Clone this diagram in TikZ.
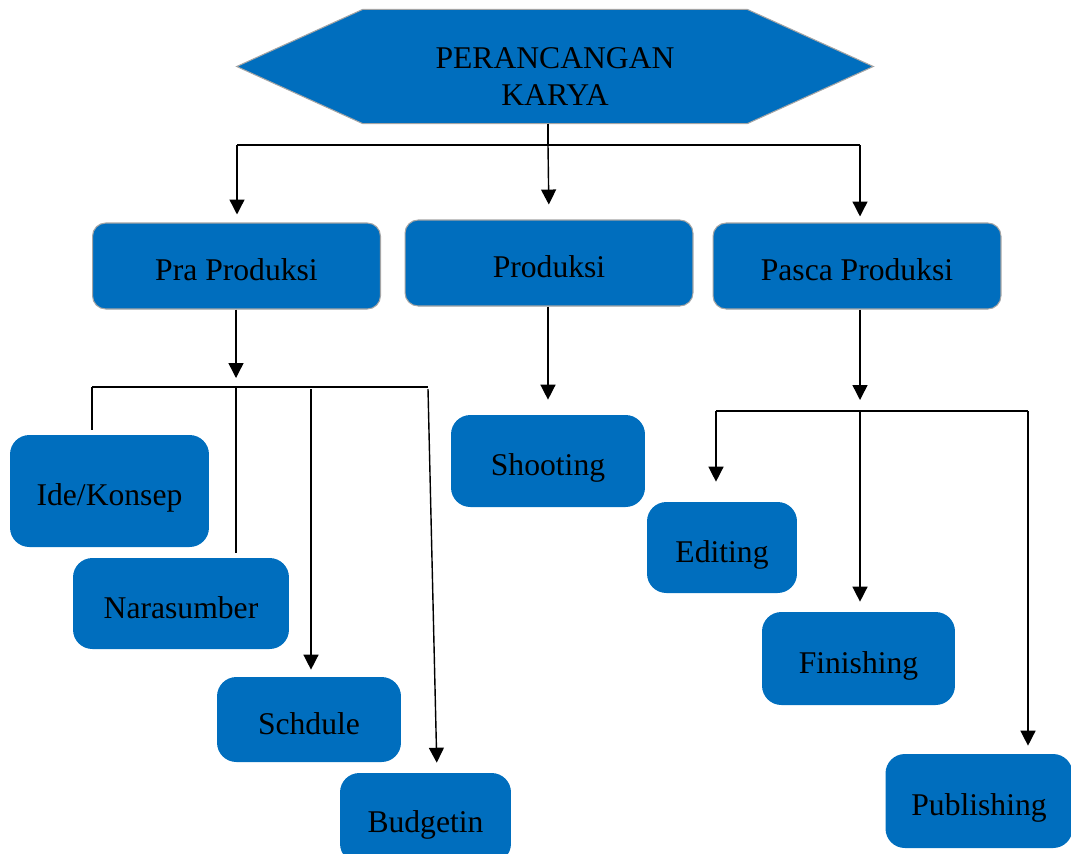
\documentclass[tikz,border=0pt]{standalone}
\usepackage{fontspec}
\setmainfont{Liberation Serif}
\usetikzlibrary{positioning, arrows.meta, backgrounds}
\definecolor{boxblue}{RGB}{0,110,190}
\definecolor{edgegray}{RGB}{165,165,165}

\begin{document}
\begin{tikzpicture}[
    x=0.02cm, y=-0.02cm,
    stagebox/.style={
        draw=edgegray,
        line width=0.6pt,
        fill=boxblue,
        rounded corners=7.5pt,
        font=\fontsize{18}{21}\selectfont,
        text height=21pt,
        text depth=4pt,
        minimum width=5.76cm,
        minimum height=1.72cm
    },
    taskbox/.style={
        fill=boxblue,
        rounded corners=11pt,
        font=\fontsize{18}{21}\selectfont,
        text height=21pt,
        text depth=4pt
    },
    link/.style={line width=0.8pt},
    arr/.style={line width=0.8pt, -{Triangle[width=8.5pt,length=8.5pt]}}
]
\useasboundingbox (0,0) rectangle (1071,853);

% === Top: Perancangan Karya ===
\node[minimum width=7.68cm, minimum height=2.27cm, inner sep=0pt,
      label={[yshift=-0.2cm, align=center, font=\fontsize{18}{21}\selectfont]center:PERANCANGAN\\KARYA}]
      (top) at (555,66.5) {};
\begin{scope}[on background layer]
\draw[draw=edgegray, fill=boxblue, line width=0.6pt]
    (top.north west) -- (top.north east) -- ([xshift=2.52cm]top.east)
    -- (top.south east) -- (top.south west) -- ([xshift=-2.52cm]top.west) -- cycle;
\end{scope}

% === Stages ===
\node[stagebox] (pra) at (236.5,266) {Pra Produksi};
\node[stagebox] (prod) at (549,263) {Produksi};
\node[stagebox] (pasca) at (857,266) {Pasca Produksi};

% === Pra Produksi tasks ===
\node[taskbox, minimum width=3.98cm, minimum height=2.24cm] (ide) at (109.5,491) {Ide/Konsep};
\node[taskbox, minimum width=4.32cm, minimum height=1.82cm] (nara) at (181,603.5) {Narasumber};
\node[taskbox, minimum width=3.68cm, minimum height=1.70cm] (sched) at (309,719.5) {Schdule};
\node[taskbox, minimum width=3.42cm, minimum height=1.80cm] (budget) at (425.5,818) {Budgetin};

% === Produksi task ===
\node[taskbox, minimum width=3.88cm, minimum height=1.84cm] (shoot) at (548,461) {Shooting};

% === Pasca Produksi tasks ===
\node[taskbox, minimum width=3.00cm, minimum height=1.82cm] (edit) at (722,547.5) {Editing};
\node[taskbox, minimum width=3.86cm, minimum height=1.86cm] (finish) at (858.5,658.5) {Finishing};
\node[taskbox, minimum width=3.74cm, minimum height=1.88cm] (publish) at (979,801) {Publishing};

% === Bus points ===
\coordinate (topmid) at (548,145);
\coordinate (topL) at (237,145);
\coordinate (topR) at (860,145);
\coordinate (praL) at (92,387);
\coordinate (praM) at (236,387);
\coordinate (praS) at (311,387);
\coordinate (praR) at (428,387);
\coordinate (pascaL) at (716,411);
\coordinate (pascaM) at (860,411);
\coordinate (pascaR) at (1028,411);

% === Arrows ===
\draw[link] (top.south -| topmid) -- (topmid);
\draw[link] (topL) -- (topR);
\draw[arr, shorten >=0.16cm] (topL) -- (topL |- pra.north);
\draw[arr, shorten >=0.30cm] (topmid) -- (prod.north);
\draw[arr, shorten >=0.12cm] (topR) -- (topR |- pasca.north);

\draw[arr] (pra.south -| praM) -- ([yshift=0.18cm]praM);
\draw[link] (praL) -- (praR);
\draw[link] (praL) -- ([yshift=0.1cm]praL |- ide.north);
\draw[link] (praM) -- ([yshift=0.1cm]praM |- nara.north);
\draw[arr, shorten >=0.14cm] ([yshift=-0.04cm]praS) -- (praS |- sched.north);
\draw[arr, shorten >=0.20cm] ([yshift=-0.04cm]praR) -- ([xshift=0.18cm]praR |- budget.north);

\draw[arr, shorten >=0.30cm] (prod.south -| topmid) -- (shoot.north -| topmid);

\draw[arr] (pasca.south -| pascaM) -- ([yshift=0.22cm]pascaM);
\draw[link] (pascaL) -- (pascaR);
\draw[arr, shorten >=0.40cm] (pascaL) -- (pascaL |- edit.north);
\draw[arr, shorten >=0.20cm] (pascaM) -- (pascaM |- finish.north);
\draw[arr, shorten >=0.16cm] (pascaR) -- (pascaR |- publish.north);

\end{tikzpicture}
\end{document}
